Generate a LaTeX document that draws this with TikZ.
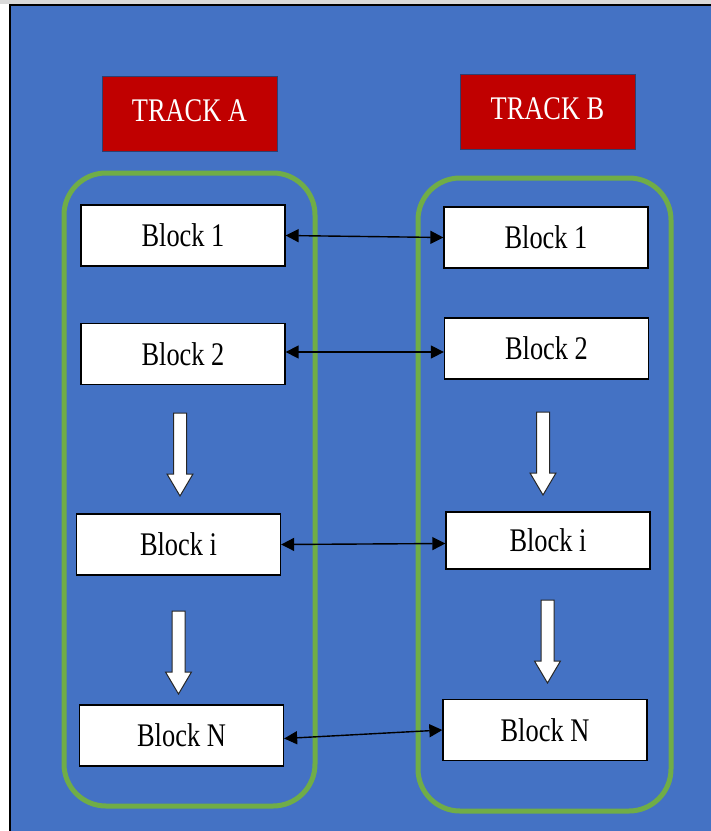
\documentclass[tikz,border=0pt]{standalone}
\usepackage{fontspec}
\setmainfont{Liberation Serif}[FakeStretch=0.8]
\usetikzlibrary{arrows.meta}

\definecolor{slideblue}{HTML}{4472C4}
\definecolor{trackred}{HTML}{C00000}
\definecolor{trackedge}{HTML}{2F3F6F}
\definecolor{lanegreen}{HTML}{70AD47}

\tikzset{
  block/.style={draw=black, line width=1.3, fill=white, minimum width=204,
    minimum height=61, inner sep=0, font=\fontsize{33}{40}\selectfont},
  track/.style={draw=trackedge, line width=1, fill=trackred, text=white,
    minimum width=175, minimum height=75, inner sep=0,
    font=\fontsize{33}{40}\selectfont},
  lane/.style={draw=lanegreen, line width=5, rounded corners=42},
  link/.style={{Triangle[length=13pt,width=13pt]}-{Triangle[length=13pt,width=13pt]},
    line width=1.4},
  flow/.pic={\draw[fill=white, draw=black!85, line width=1]
    (-6.5,0) -- (-6.5,61) -- (-13,61) -- (0,83) -- (13,61) -- (6.5,61)
    -- (6.5,0) -- cycle;}
}

\begin{document}
\begin{tikzpicture}[x=1pt, y=-1pt]
  \useasboundingbox (0,0) rectangle (711,831);

  % page frame
  \fill[white] (0,0) rectangle (711,831);
  \fill[black!15] (0,0) rectangle (711,4);
  \fill[slideblue] (10,5) rectangle (711,831);
  \draw[black, line width=1.2] (10,831) -- (10,5) -- (711,5);

  % track headers
  \node[track] (TA) at (189.5,113.5) {\raisebox{6pt}{TRACK A}};
  \node[track] (TB) at (547.5,111.5) {\raisebox{6pt}{TRACK B}};

  % track lanes
  \draw[lane] (64,173) rectangle (315,806);
  \draw[lane] (418,178) rectangle (671,811);

  % blocks of track A
  \node[block] (A1) at (183,235.5) {Block 1};
  \node[block] (A2) at (183,354) {Block 2};
  \node[block] (Ai) at (178.5,544.5) {Block i};
  \node[block] (AN) at (181.5,735.5) {Block N};

  % blocks of track B
  \node[block] (B1) at (546,237.5) {Block 1};
  \node[block] (B2) at (546.5,348.5) {Block 2};
  \node[block, minimum height=57] (Bi) at (548,540.5) {Block i};
  \node[block] (BN) at (545,730) {Block N};

  % links between the tracks
  \draw[link] (A1.east) -- (B1.west);
  \draw[link] ([yshift=2]A2.east) -- ([yshift=-3.5]B2.west);
  \draw[link] (Ai.east) -- ([yshift=-3]Bi.west);
  \draw[link] ([yshift=-3]AN.east) -- (BN.west);

  % progression inside each track
  \pic at (180,413) {flow};
  \pic at (178.5,611) {flow};
  \pic at (543,412) {flow};
  \pic at (547.5,600) {flow};
\end{tikzpicture}
\end{document}
